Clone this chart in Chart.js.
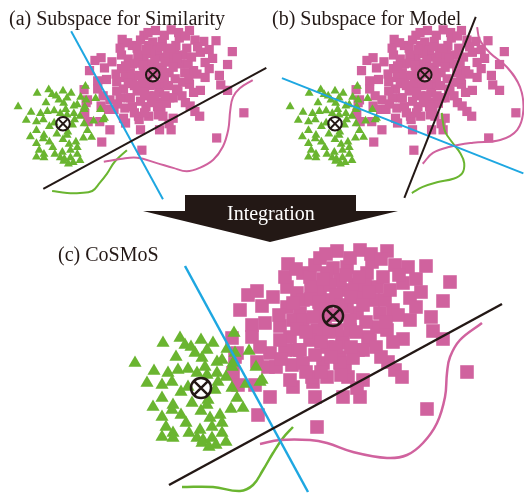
<!DOCTYPE html>
<html>
<head>
<meta charset="utf-8">
<script src="https://cdn.jsdelivr.net/npm/chart.js@4.4.1/dist/chart.umd.min.js"></script>
<style>
  body { margin: 0; background: #fff; width: 524px; height: 493px; position: relative; overflow: hidden;
         font-family: "Liberation Serif", "Times New Roman", serif; }
  canvas { position: absolute; }
  .lbl { position: absolute; font-size: 20px; line-height: 20px; color: #231815; white-space: nowrap; }
</style>
</head>
<body>
<svg width="524" height="493" style="position:absolute;left:0;top:0">
  <polygon points="185,195 356,195 356,211 398,211 270,242 143,211 185,211" fill="#231815"/>
</svg>
<canvas id="chartA" width="278" height="190" style="left:0px;top:18px"></canvas>
<canvas id="chartB" width="262" height="195" style="left:262px;top:10px"></canvas>
<canvas id="chartC" width="404" height="253" style="left:120px;top:240px"></canvas>
<div class="lbl" style="left:9px;top:8px">(a) Subspace for Similarity</div>
<div class="lbl" style="left:272px;top:8px">(b) Subspace for Model</div>
<div class="lbl" style="left:58px;top:244px">(c) CoSMoS</div>
<div class="lbl" style="left:227px;top:203px;color:#fff">Integration</div>
<script>
// shared samples (units of panel c)
const greenPts = [
  [-38,44],[-21,49],[-16,42],[0,47],[6,37],[-6,34],[1,29],[16,25],[21,27],[33,54],
  [34,34],[48,36],[-66,24],[-54,4],[-33,14],[-23,17],[-13,18],[-4,14],[-39,2],[-29,5],
  [6,12],[16,14],[17,5],[55,20],[61,7],[31,-1],[14,-3],[-13,0],[-39,-11],[-28,-18],
  [-29,-23],[-9,-16],[7,-13],[6,-18],[36,-11],[42,-21],[-39,-30],[-15,-36],[9,-31],[19,-28],
  [21,-36],[11,-40],[-1,-43],[-39,-50],[-28,-46],[-28,-51],[-4,-51],[2,-53],[11,-51],[21,-46],
  [1,-56],[31,20],[4,20],[59,5],[32,24],
  [-10,40],[12,44],[26,38],[-25,30],[-47,16],[-20,-5],[25,10],[45,3],[-48,-20],[-20,-28],
  [0,-24],[30,-22],[-35,-40],[-12,-46],[15,-58],[25,-55],[8,-60]
];
const pinkPts = [
  [87,123],[47,92],[56,96],[39,77],[61,81],[51,62],[64,64],[79,61],[51,50],[31,49],
  [36,34],[69,34],[59,40],[34,30],[56,25],[67,20],[32,14],[37,2],[54,2],[69,-10],
  [57,-28],[116,-40],[92,0],[91,22],[112,5],[114,-10],[126,10],[142,-10],[159,-10],[147,10],
  [162,7],[156,-1],[144,20],[187,25],[194,17],[201,10],[266,15],[226,-22],[136,136],[159,137],
  [186,136],[207,120],[225,121],[249,105],[242,86],[202,104],[209,89],[209,67],[192,77],[232,56],
  [242,48],[202,48],[186,57],[192,45],[167,50],[141,50],[157,37],[139,30],[122,24],[96,37],
  [99,74],[102,114],[109,110],[86,100],[96,94],[86,80],[92,67],[89,50],[102,24],[89,7],
  [111,10],[132,119],[146,120],[166,114],[176,100],[172,87],[179,74],[176,60],[169,47],[162,37],
  [152,29],[139,24],[126,40],[142,44],[149,57],[156,74],[159,90],[142,97],[119,97],[102,87],
  [102,67],[116,57],[136,57],[146,80],[109,47],[99,37],[126,114],[194,122],[197,72],[119,77],
  [129,87],[134,72],[124,67],[139,107],[154,102],[164,102],[114,32],[84,37],[79,47],[184,87],
  [189,97],[149,67],[129,102],[114,122],[119,129],[149,129],[171,125],[84,110],
  [125,133],[170,133],[180,128],[95,118],[110,100],[122,108],[135,92],[145,112],[158,110],[168,95],
  [182,110],[198,112],[215,108],[92,84],[110,88],[118,85],[125,78],[140,82],[150,90],[162,82],
  [185,65],[165,65],[155,55],[128,55],[112,70],[96,58],[78,72],[72,90],[105,55],[120,45],
  [135,40],[150,40],[175,40],[180,30],[130,30],[105,15],[120,15],[140,12],[75,20],[80,28],
  [215,80],[220,95],[230,70]
];
const centers = [[0,-1],[132,71]];

// (a) Subspace for Similarity
const aBlack = [[-29,-97],[299,81]];
const aBlue = [[12,135],[147,-112]];
const aPink = [[60,-57],[84,-53],[109,-51],[138,-59],[162,-66],[182,-71],[201,-66],[221,-54],[235,-35],[243,-10],[246,19],[250,38],[260,51],[279,63]];
const aGreen = [[-16,-100],[6,-103],[25,-103],[43,-100],[54,-88],[65,-74],[76,-57],[94,-40]];

// (b) Subspace for Model
const bBlack = [[102,-110],[207,156]];
const bBlue = [[-78,66],[277,-74]];
const bPink = [[129,-60],[144,-44],[169,-35],[203,-29],[243,-25],[268,-10],[277,19],[272,53],[253,82],[228,103],[213,122],[209,141]];
const bGreen = [[113,-103],[129,-94],[150,-87],[174,-82],[187,-74],[190,-59],[184,-44],[172,-28],[162,-13],[159,0],[157,15]];

// (c) CoSMoS
const cBlack = [[-32,-98],[301,83]];
const cBlue = [[-16,121],[107,-105]];
const cPink = [[59,-57],[79,-53],[109,-53],[126,-56],[152,-65],[186,-71],[206,-68],[222,-56],[236,-36],[244,-10],[246,14],[249,30],[259,47],[281,64]];
const cGreen = [[-19,-100],[12,-100],[39,-104],[52,-98],[62,-83],[72,-66],[82,-51],[92,-40]];

const PINK = 'rgb(208,98,158)';
const GREEN = 'rgb(106,181,48)';
const BLUE = 'rgb(30,167,225)';
const BLACK = '#231815';

const pts = arr => arr.map(([x, y]) => ({ x, y }));

function makePanel(id, left, top, ox, oy, k, black, blue, pinkCurve, greenCurve) {
    const cv = document.getElementById(id);
    const w = cv.width, h = cv.height;
    const lw = k === 1 ? 2.5 : 2;
    const line = (data, color, tension) => ({
        data: pts(data), showLine: true, borderColor: color, borderWidth: lw,
        pointRadius: 0, tension: tension, clip: false
    });
    new Chart(cv.getContext('2d'), {
        type: 'scatter',
        data: {
            datasets: [
                { data: pts(centers), pointStyle: 'crossRot', pointRadius: 9.5 * k,
                  pointBorderColor: BLACK, pointBorderWidth: lw, clip: false },
                { data: pts(centers), pointStyle: 'circle', pointRadius: 10 * k,
                  pointBorderColor: BLACK, pointBorderWidth: lw, pointBackgroundColor: 'rgba(0,0,0,0)', clip: false },
                line(black, BLACK, 0),
                line(blue, BLUE, 0),
                line(pinkCurve, PINK, 0.4),
                line(greenCurve, GREEN, 0.4),
                { data: pts(greenPts), pointStyle: 'triangle', pointRadius: 7.6 * k,
                  pointBackgroundColor: GREEN, pointBorderWidth: 0, clip: false },
                { data: pts(pinkPts), pointStyle: 'rect', pointRadius: 9.6 * k,
                  pointBackgroundColor: PINK, pointBorderWidth: 0, clip: false }
            ]
        },
        options: {
            responsive: false,
            animation: false,
            events: [],
            layout: { autoPadding: false, padding: 0 },
            scales: {
                x: { type: 'linear', display: false, min: (left - ox) / k, max: (left + w - ox) / k },
                y: { type: 'linear', display: false, min: (oy - top - h) / k, max: (oy - top) / k }
            },
            plugins: { legend: { display: false }, tooltip: { enabled: false } }
        }
    });
}

makePanel('chartA', 0, 18, 63, 123, 0.68, aBlack, aBlue, aPink, aGreen);
makePanel('chartB', 262, 10, 335, 123, 0.68, bBlack, bBlue, bPink, bGreen);
makePanel('chartC', 120, 240, 201, 387, 1, cBlack, cBlue, cPink, cGreen);
</script>
</body>
</html>
